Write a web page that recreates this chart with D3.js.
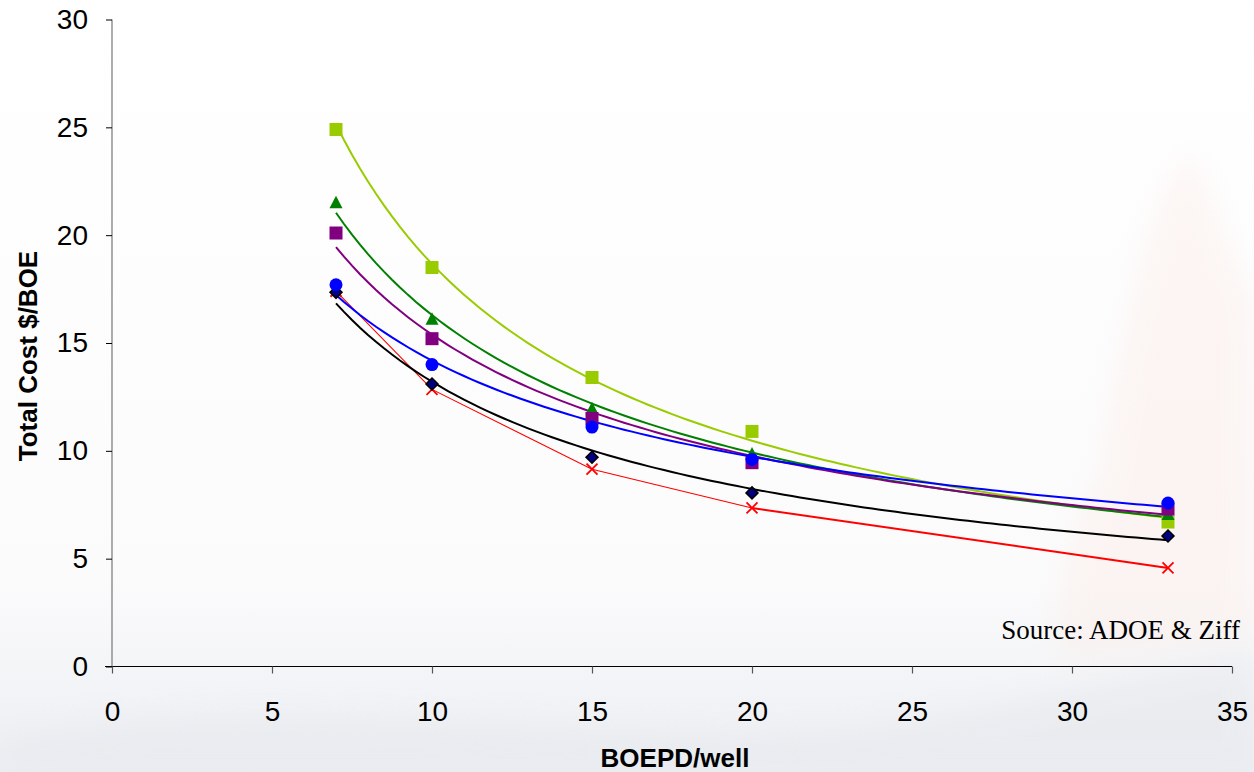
<!DOCTYPE html>
<html>
<head>
<meta charset="utf-8">
<script src="https://cdn.jsdelivr.net/npm/d3@7"></script>
<style>
html,body{margin:0;padding:0;background:#fff;}
svg{display:block;}
</style>
</head>
<body>
<svg id="chart" width="1254" height="772"></svg>
<script>
// ---- data ----
const xValues = [7, 10, 15, 20, 33];
const limeValues   = [24.9, 18.5, 13.4, 10.9, 6.7];
const greenValues  = [21.5, 16.1, 11.95, 9.85, 7.05];
const purpleValues = [20.1, 15.2, 11.5, 9.45, 7.3];
const blueValues   = [17.7, 14.0, 11.1, 9.6, 7.58];
const blackValues  = [17.35, 13.1, 9.7, 8.05, 6.05];
const redValues    = [17.4, 12.85, 9.15, 7.35, 4.57];
const xTicks = [0, 5, 10, 15, 20, 25, 30, 35];
const yTicks = [0, 5, 10, 15, 20, 25, 30];
const xTitle = "BOEPD/well";
const yTitle = "Total Cost $/BOE";
const sourceText = "Source: ADOE & Ziff";

const series = [
  {values: redValues,    color: "#FF0000", marker: "x",        trend: false},
  {values: blackValues,  color: "#000000", marker: "diamond",  trend: true},
  {values: limeValues,   color: "#99CC00", marker: "square",   trend: true},
  {values: greenValues,  color: "#008000", marker: "triangle", trend: true},
  {values: purpleValues, color: "#800080", marker: "square",   trend: true},
  {values: blueValues,   color: "#0000FF", marker: "circle",   trend: true}
];

const svg = d3.select("#chart");
const sans = "Liberation Sans, Arial, sans-serif";

// ---- faint background ----
const defs = svg.append("defs");
const bg = defs.append("linearGradient").attr("id","bgv").attr("x1",0).attr("y1",0).attr("x2",0).attr("y2",1);
bg.append("stop").attr("offset","0%").attr("stop-color","#ffffff");
bg.append("stop").attr("offset","75%").attr("stop-color","#fbfbfc");
bg.append("stop").attr("offset","100%").attr("stop-color","#eceef2");
svg.append("rect").attr("width",1254).attr("height",772).attr("fill","url(#bgv)");
const blur = defs.append("filter").attr("id","blur").attr("x","-20%").attr("y","-20%").attr("width","140%").attr("height","140%");
blur.append("feGaussianBlur").attr("stdDeviation",14);
svg.append("path")
  .attr("d","M1190,150 C1215,200 1230,260 1254,300 L1254,640 L1060,660 C1050,600 1070,520 1100,470 C1110,400 1130,300 1150,230 C1165,190 1180,160 1190,150 Z")
  .attr("fill","#fbece7").attr("opacity",0.45).attr("filter","url(#blur)");
svg.append("path")
  .attr("d","M0,740 C200,700 400,720 700,735 C900,745 1050,690 1254,650 L1254,772 L0,772 Z")
  .attr("fill","#e4e7ec").attr("opacity",0.5).attr("filter","url(#blur)");

// ---- scales ----
const x = d3.scaleLinear().domain([0, 35]).range([112, 1232]);
const y = d3.scaleLinear().domain([0, 30]).range([666.5, 19.5]);

// ---- axes ----
const yAxis = svg.append("g").attr("transform", `translate(${x(0)},0)`)
  .call(d3.axisLeft(y).tickValues(yTicks).tickSize(6).tickPadding(18).tickFormat(d3.format("d")));
yAxis.select(".domain").attr("stroke","#808080").attr("stroke-width",1.3).attr("d",`M0,${y(30)}V${y(0)}`);
yAxis.selectAll(".tick line").attr("stroke","#000").attr("stroke-width",1);
yAxis.selectAll(".tick text").attr("font-family",sans).attr("font-size",28).attr("fill","#000");

const xAxis = svg.append("g").attr("transform", `translate(0,${y(0)})`)
  .call(d3.axisBottom(x).tickValues(xTicks).tickSize(7).tickPadding(28).tickFormat(d3.format("d")));
xAxis.select(".domain").attr("stroke","#000").attr("stroke-width",1.2).attr("d",`M${x(0)-7},0H${x(35)}`);
xAxis.selectAll(".tick line").attr("stroke","#555").attr("stroke-width",1.2);
xAxis.selectAll(".tick text").attr("font-family",sans).attr("font-size",28).attr("fill","#000");

// titles
svg.append("text").attr("x", 675).attr("y", 767).attr("text-anchor","middle")
  .attr("font-family",sans).attr("font-weight","bold").attr("font-size",26)
  .text(xTitle);
svg.append("text").attr("transform",`translate(37,356) rotate(-90)`).attr("text-anchor","middle")
  .attr("font-family",sans).attr("font-weight","bold").attr("font-size",26)
  .text(yTitle);
svg.append("text").attr("x", 1240).attr("y", 639).attr("text-anchor","end")
  .attr("font-family","Liberation Serif, Times New Roman, serif").attr("font-size",27)
  .text(sourceText);

// ---- power-law trend fit (from data) ----
function powerFit(xs, ys) {
  const lx = xs.map(Math.log), ly = ys.map(Math.log);
  const mx = d3.mean(lx), my = d3.mean(ly);
  let sxy = 0, sxx = 0;
  for (let i = 0; i < xs.length; i++) { sxy += (lx[i]-mx)*(ly[i]-my); sxx += (lx[i]-mx)**2; }
  const b = sxy/sxx, a = Math.exp(my - b*mx);
  return v => a * Math.pow(v, b);
}

const lineGen = d3.line().x(d => x(d[0])).y(d => y(d[1]));
const plotG = svg.append("g");

// red: connected straight lines
const redPts = xValues.map((v,i) => [v, redValues[i]]);
plotG.append("path").datum(redPts.slice(0,4)).attr("d", lineGen)
  .attr("fill","none").attr("stroke","#FF0000").attr("stroke-width",1.1);
plotG.append("path").datum(redPts.slice(3)).attr("d", lineGen)
  .attr("fill","none").attr("stroke","#FF0000").attr("stroke-width",2);

// trend curves
series.filter(s => s.trend).forEach(s => {
  const f = powerFit(xValues, s.values);
  const xs = d3.range(xValues[0], xValues[xValues.length-1] + 0.001, 0.25);
  plotG.append("path").datum(xs.map(v => [v, f(v)])).attr("d", lineGen)
    .attr("fill","none").attr("stroke", s.color).attr("stroke-width",2);
});

// markers
series.forEach(s => {
  const g = plotG.append("g");
  xValues.forEach((xv, i) => {
    const cx = x(xv), cy = y(s.values[i]);
    if (s.marker === "square") {
      g.append("rect").attr("x",cx-6.5).attr("y",cy-6.5).attr("width",13).attr("height",13).attr("fill",s.color);
    } else if (s.marker === "circle") {
      g.append("circle").attr("cx",cx).attr("cy",cy).attr("r",6.5).attr("fill",s.color);
    } else if (s.marker === "triangle") {
      g.append("path").attr("d",`M${cx},${cy-7}L${cx+6.5},${cy+5.5}L${cx-6.5},${cy+5.5}Z`).attr("fill",s.color);
    } else if (s.marker === "diamond") {
      g.append("path").attr("d",`M${cx},${cy-6}L${cx+6},${cy}L${cx},${cy+6}L${cx-6},${cy}Z`)
        .attr("fill","#000080").attr("stroke","#000").attr("stroke-width",1.5);
    } else if (s.marker === "x") {
      g.append("path").attr("d",`M${cx-5.5},${cy-5.5}L${cx+5.5},${cy+5.5}M${cx+5.5},${cy-5.5}L${cx-5.5},${cy+5.5}`)
        .attr("stroke",s.color).attr("stroke-width",1.8).attr("fill","none");
    }
  });
});
</script>
</body>
</html>
